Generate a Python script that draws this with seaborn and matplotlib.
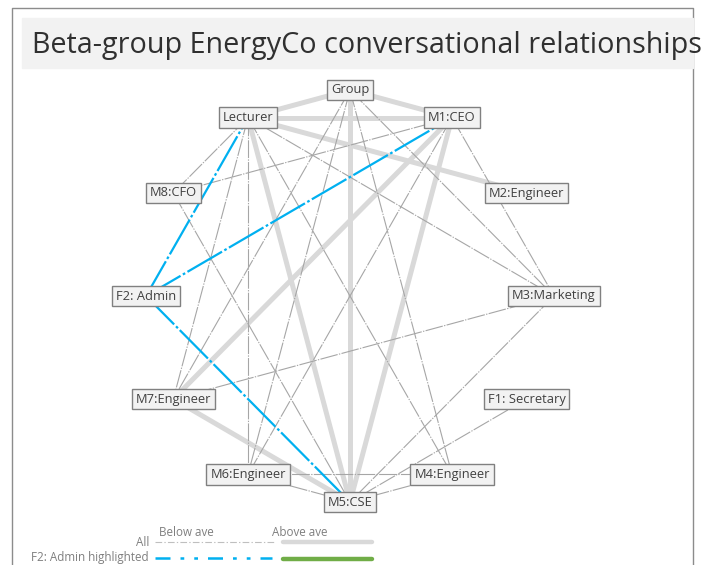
# Beta-group EnergyCo conversational relationships - network chart
import numpy as np
import pandas as pd
import matplotlib.pyplot as plt
import seaborn as sns

# people, clockwise from the top of the circle
nodes = ["Group", "M1:CEO", "M2:Engineer", "M3:Marketing", "F1: Secretary", "M4:Engineer",
         "M5:CSE", "M6:Engineer", "M7:Engineer", "F2: Admin", "M8:CFO", "Lecturer"]

# conversations above the average
edges_above = [("Group", "Lecturer"), ("Group", "M1:CEO"), ("Lecturer", "M1:CEO"),
               ("Lecturer", "M2:Engineer"), ("Group", "M5:CSE"), ("Lecturer", "M5:CSE"),
               ("M1:CEO", "M7:Engineer"), ("M1:CEO", "M5:CSE"), ("M7:Engineer", "M5:CSE")]

# conversations below the average
edges_below = [("Lecturer", "M8:CFO"), ("M1:CEO", "M8:CFO"), ("Lecturer", "M7:Engineer"),
               ("Lecturer", "M6:Engineer"), ("Lecturer", "M4:Engineer"), ("Lecturer", "M3:Marketing"),
               ("Group", "M7:Engineer"), ("Group", "M6:Engineer"), ("Group", "M4:Engineer"),
               ("Group", "M3:Marketing"), ("M1:CEO", "M3:Marketing"), ("M1:CEO", "M6:Engineer"),
               ("M8:CFO", "M5:CSE"), ("M7:Engineer", "M3:Marketing"), ("M6:Engineer", "M4:Engineer"),
               ("M6:Engineer", "M5:CSE"), ("M4:Engineer", "M5:CSE"), ("F1: Secretary", "M5:CSE"),
               ("M3:Marketing", "M5:CSE")]

# F2: Admin highlighted (all below average)
edges_hl = [("F2: Admin", "Lecturer"), ("F2: Admin", "M1:CEO"), ("F2: Admin", "M5:CSE")]

# circular layout (pixel space, y down)
cx, cy, rx, ry = 350, 296, 204, 206
ang = np.deg2rad(90 - 30 * np.arange(len(nodes)))
pos = {n: (cx + rx * np.cos(a), cy - ry * np.sin(a)) for n, a in zip(nodes, ang)}

rows = []
for kind, lst in [("above", edges_above), ("below", edges_below), ("hl", edges_hl)]:
    for i, (a, b) in enumerate(lst):
        for n in (a, b):
            rows.append({"kind": kind, "edge": f"{kind}{i}", "x": pos[n][0], "y": pos[n][1]})
df = pd.DataFrame(rows)

sns.set_style("white")
plt.rcParams['font.family'] = ['Open Sans', 'DejaVu Sans']

fig = plt.figure(figsize=(7.01, 5.65), dpi=100)
ax = fig.add_axes([0, 0, 1, 1])

gray_dash = (0, (16, 1.2, 1.2, 1.2))
blue_dash = (0, (18, 1.2, 1.2, 1.2))

sns.lineplot(data=df[df.kind == "above"], x="x", y="y", units="edge", estimator=None, sort=False,
             color="#d9d9d9", linewidth=3.6, ax=ax, legend=False, zorder=1)
sns.lineplot(data=df[df.kind == "below"], x="x", y="y", units="edge", estimator=None, sort=False,
             color="#a6a6a6", linewidth=0.8, linestyle=gray_dash, ax=ax, legend=False, zorder=2)
sns.lineplot(data=df[df.kind == "hl"], x="x", y="y", units="edge", estimator=None, sort=False,
             color="#00b0f0", linewidth=1.6, linestyle=blue_dash, ax=ax, legend=False, zorder=3)

for n in nodes:
    ax.text(pos[n][0], pos[n][1], n, ha="center", va="center", fontsize=9.3, color="#404040", zorder=5,
            bbox=dict(boxstyle="square,pad=0.3", fc="#f2f2f2", ec="#808080", lw=1))

# frame and title band
ax.plot([12, 12, 693, 693], [565, 8, 8, 565], color="#8c8c8c", lw=1, zorder=0)
ax.add_patch(plt.Rectangle((22, 18), 671, 50, color="#f2f2f2", zorder=0))
ax.text(32, 45, "Beta-group EnergyCo conversational relationships", fontsize=20.7,
        color="#303030", ha="left", va="center")

# legend
ax.text(186, 532, "Below ave", fontsize=8.4, color="#7f7f7f", ha="center", va="center")
ax.text(300, 532, "Above ave", fontsize=8.4, color="#7f7f7f", ha="center", va="center")
ax.text(149, 542, "All", fontsize=8.4, color="#7f7f7f", ha="right", va="center")
ax.text(149, 558, "F2: Admin highlighted", fontsize=8.4, color="#7f7f7f", ha="right", va="center")
ax.plot([155, 275], [542, 542], color="#bfbfbf", lw=0.8, linestyle=(0, (6, 2, 1.2, 2)))
ax.plot([283, 372], [542, 542], color="#d9d9d9", lw=3.2)
ax.plot([155, 272], [558, 558], color="#00b0f0", lw=1.8, linestyle=(0, (6, 4, 1.5, 4, 1.5, 4)))
ax.plot([283, 372], [559, 559], color="#70ad47", lw=3.2)

ax.set_xlim(0, 701)
ax.set_ylim(565, 0)
ax.axis("off")
plt.savefig("out.png", dpi=100)
